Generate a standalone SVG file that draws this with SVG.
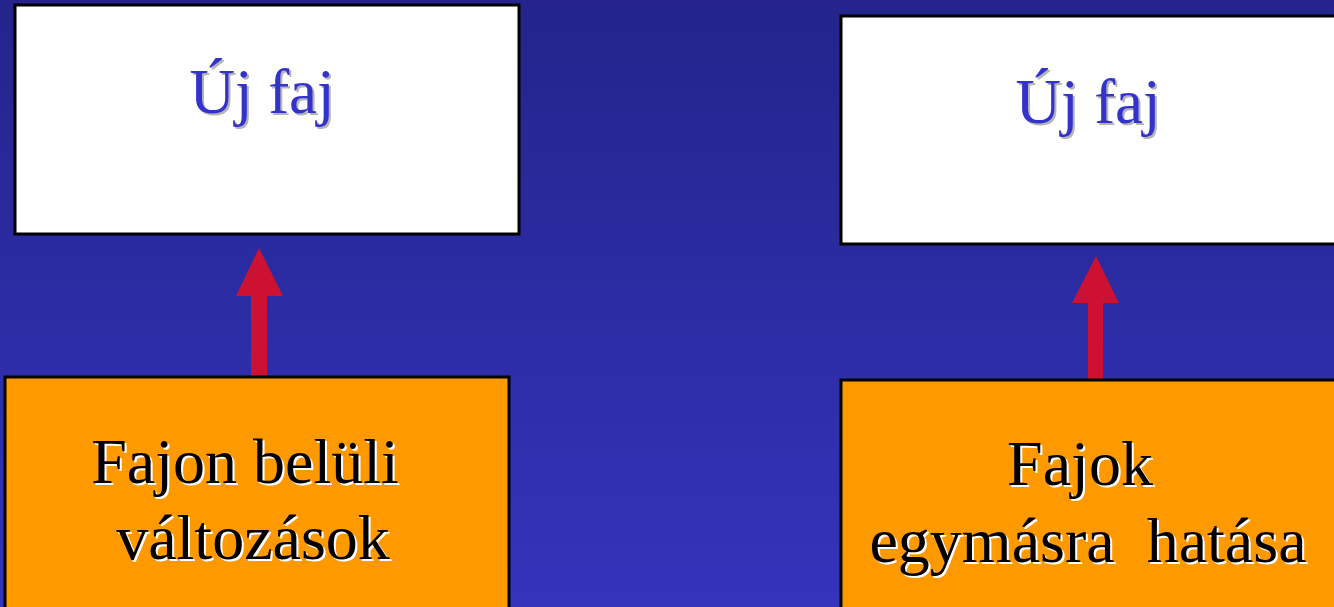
<svg xmlns="http://www.w3.org/2000/svg" width="1334" height="607" viewBox="0 0 1334 607">
<defs>
<linearGradient id="bg" x1="0" y1="0" x2="0" y2="1">
<stop offset="0" stop-color="#24248C"/>
<stop offset="1" stop-color="#3434BC"/>
</linearGradient>
</defs>
<style>
.top{fill:#FFFFFF;stroke:#000000;stroke-width:3}
.bot{fill:#FF9900;stroke:#000000;stroke-width:3}
.t{font-family:"Liberation Serif","Times New Roman",serif;font-size:64px;text-anchor:middle}
.u{font-size:63px}
.blue{fill:#3333CC}
.bsh{fill:#B4B4B4}
.blk{fill:#000000}
.wsh{fill:#FFFFFF}
.arr{fill:#CC1133}
</style>
<rect x="0" y="0" width="1334" height="607" fill="url(#bg)"/>
<g id="connectors">
<path class="arr" d="M251,377 V296 H236 L259,248 L283,296 H267 V377 Z"/>
<path class="arr" d="M1088,380 V303 H1072 L1096,256 L1119,303 H1103 V380 Z"/>
</g>
<g id="new-species-left">
<rect class="top" x="15" y="5" width="504" height="229"/>
<text class="t u bsh" x="264" y="115">Új faj</text>
<text class="t u blue" x="262" y="113">Új faj</text>
</g>
<g id="new-species-right">
<rect class="top" x="841" y="16" width="500" height="228"/>
<text class="t u bsh" x="1090" y="125">Új faj</text>
<text class="t u blue" x="1088" y="123">Új faj</text>
</g>
<g id="within-species">
<rect class="bot" x="5" y="377" width="504" height="240"/>
<text class="t wsh" x="247" y="485">Fajon belüli</text>
<text class="t blk" x="245" y="483">Fajon belüli</text>
<text class="t wsh" x="255" y="561">változások</text>
<text class="t blk" x="253" y="559">változások</text>
</g>
<g id="interspecies">
<rect class="bot" x="841" y="380" width="500" height="240"/>
<text class="t wsh" x="1082" y="487">Fajok</text>
<text class="t blk" x="1080" y="485">Fajok</text>
<text class="t wsh" x="1090" y="564" xml:space="preserve">egymásra  hatása</text>
<text class="t blk" x="1088" y="562" xml:space="preserve">egymásra  hatása</text>
</g>
</svg>
